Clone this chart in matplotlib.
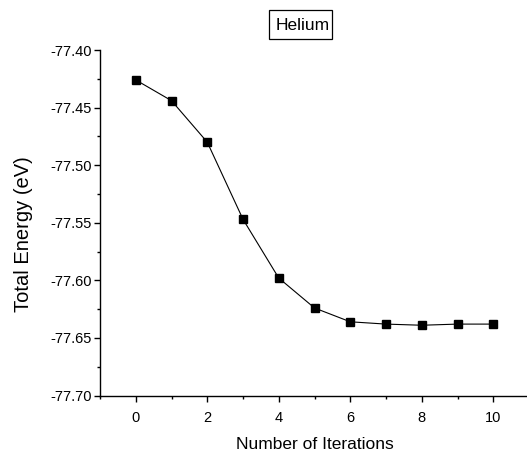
import matplotlib
matplotlib.use("Agg")
import matplotlib.pyplot as plt
from matplotlib.patches import Rectangle
from matplotlib.ticker import MultipleLocator, FormatStrFormatter

iterations = [0, 1, 2, 3, 4, 5, 6, 7, 8, 9, 10]
energy = [-77.426, -77.444, -77.480, -77.547, -77.598, -77.624, -77.636, -77.638, -77.639, -77.638, -77.638]
title_text = "Helium"
xlabel_text = "Number of Iterations"
ylabel_text = "Total Energy (eV)"

plt.rcParams['font.family'] = ['Liberation Sans', 'DejaVu Sans']

fig = plt.figure(figsize=(5.27, 4.54), dpi=100)
W, H = 527, 454
left, right, top, bottom = 100, 529, 50, 395.5
ax = fig.add_axes([left / W, 1 - bottom / H, (right - left) / W, (bottom - top) / H])

ax.plot(iterations, energy, color='black', linewidth=0.8, marker='s',
        markersize=5.2, markerfacecolor='black', markeredgecolor='black')

ax.set_xlim(-1, 11)
ax.set_ylim(-77.70, -77.40)
ax.xaxis.set_major_locator(MultipleLocator(2))
ax.xaxis.set_minor_locator(MultipleLocator(1))
ax.yaxis.set_major_locator(MultipleLocator(0.05))
ax.yaxis.set_minor_locator(MultipleLocator(0.025))
ax.yaxis.set_major_formatter(FormatStrFormatter('%.2f'))

for s in ['top', 'right']:
    ax.spines[s].set_visible(False)
for s in ['left', 'bottom']:
    ax.spines[s].set_linewidth(1.0)

ax.tick_params(which='major', direction='out', length=4, width=1.0, labelsize=10.5)
ax.tick_params(axis='x', which='major', pad=7)
ax.tick_params(axis='y', which='major', pad=2)
ax.tick_params(which='minor', direction='out', length=2.5, width=1.0)

ax.set_xlabel(xlabel_text, fontsize=12.5, labelpad=9)
fig.text(23.5 / W, 1 - 234 / H, ylabel_text, rotation=90, ha='center', va='center',
         fontsize=14.5)

# title box
bx0, bx1, by0, by1 = 269, 332, 10, 39
fig.patches.append(Rectangle((bx0 / W, 1 - by1 / H), (bx1 - bx0) / W, (by1 - by0) / H,
                             transform=fig.transFigure, facecolor='white',
                             edgecolor='black', linewidth=0.9))
fig.text(302.5 / W, 1 - 25.5 / H, title_text, ha='center', va='center', fontsize=12.5)

fig.savefig('out.png', dpi=100)
